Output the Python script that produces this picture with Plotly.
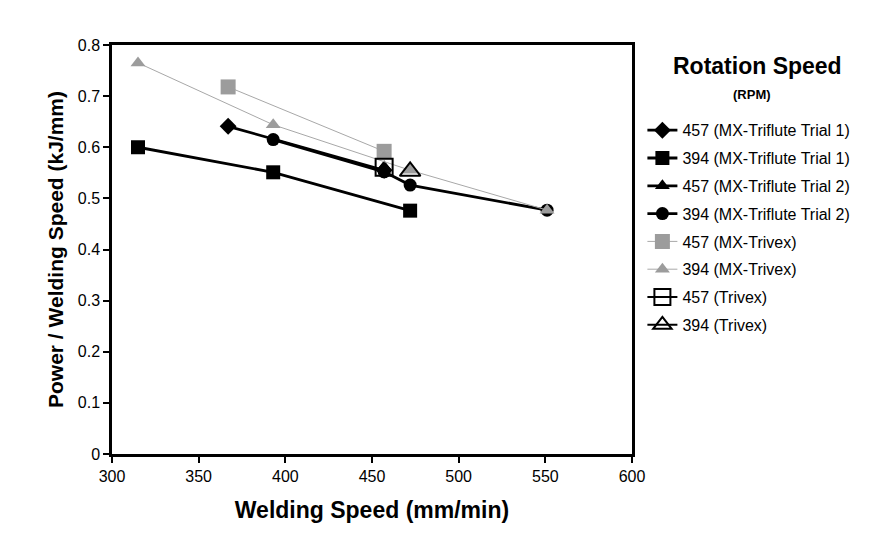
import plotly.graph_objects as go

# Data
t1_457_x = [367, 457]
t1_457_y = [0.641, 0.555]
t1_394_x = [315, 393, 472]
t1_394_y = [0.600, 0.551, 0.476]
t2_457_x = [457]
t2_457_y = [0.562]
t2_394_x = [393, 457, 472, 551]
t2_394_y = [0.615, 0.552, 0.526, 0.477]
mx_457_x = [367, 457]
mx_457_y = [0.718, 0.592]
mx_394_x = [315, 393, 472, 551]
mx_394_y = [0.765, 0.644, 0.555, 0.477]
tv_457_x = [457]
tv_457_y = [0.561]
tv_394_x = [472]
tv_394_y = [0.553]

names = [
    "457 (MX-Triflute Trial 1)",
    "394 (MX-Triflute Trial 1)",
    "457 (MX-Triflute Trial 2)",
    "394 (MX-Triflute Trial 2)",
    "457 (MX-Trivex)",
    "394 (MX-Trivex)",
    "457 (Trivex)",
    "394 (Trivex)",
]

FONT = "Liberation Sans, Arial, sans-serif"
BLACK = "#000000"
GRAY = "#9c9c9c"
GRAYLINE = "#a8a8a8"

series = [
    (t1_457_x, t1_457_y, "diamond", 13, BLACK, BLACK, 2.8),
    (t1_394_x, t1_394_y, "square", 14, BLACK, BLACK, 2.8),
    (t2_457_x, t2_457_y, "triangle-up", 13, BLACK, BLACK, 2.8),
    (t2_394_x, t2_394_y, "circle", 13, BLACK, BLACK, 2.8),
    (mx_457_x, mx_457_y, "square", 15, GRAY, GRAYLINE, 1),
    (mx_394_x, mx_394_y, "triangle-up", 13, GRAY, GRAYLINE, 1),
    (tv_457_x, tv_457_y, "square-open", 17, BLACK, BLACK, 2),
    (tv_394_x, tv_394_y, "triangle-up-open", 18, BLACK, BLACK, 2),
]

fig = go.Figure()
for i, (xs, ys, sym, size, mcol, lcol, lw) in enumerate(series):
    open_sym = sym.endswith("open")
    fig.add_trace(go.Scatter(
        x=xs, y=ys, name=names[i], mode="lines+markers",
        line=dict(color=lcol, width=lw),
        marker=dict(symbol=sym, size=size, color=mcol,
                    line=dict(width=2 if open_sym else 0, color=mcol)),
        legendgroup="g%d" % i,
    ))

axis_common = dict(
    showline=True, linecolor=BLACK, linewidth=2.5, mirror=True,
    ticks="outside", ticklen=6, tickwidth=2, tickcolor=BLACK,
    showgrid=False, zeroline=False, automargin=False,
    tickfont=dict(family=FONT, size=16, color=BLACK),
)

fig.update_layout(
    width=875, height=559,
    paper_bgcolor="white", plot_bgcolor="white",
    margin=dict(l=104, r=251, t=37, b=113),
    showlegend=True,
    legend=dict(
        x=1.02, y=0.833, xanchor="left", yanchor="top",
        font=dict(family=FONT, size=16, color=BLACK),
        tracegroupgap=4, itemwidth=30,
        bgcolor="rgba(0,0,0,0)",
    ),
    xaxis=dict(range=[300, 600], dtick=50, tick0=300,
               title=dict(text="<b>Welding Speed (mm/min)</b>",
                          font=dict(family=FONT, size=23, color=BLACK), standoff=18),
               **axis_common),
    yaxis=dict(range=[0, 0.8], dtick=0.1, tick0=0,
               title=dict(text="<b>Power / Welding Speed (kJ/mm)</b>",
                          font=dict(family=FONT, size=21, color=BLACK), standoff=9),
               **axis_common),
    annotations=[
        dict(text="<b>Rotation Speed</b>", xref="paper", yref="paper",
             x=1.242, y=0.949, xanchor="center", yanchor="middle", showarrow=False,
             font=dict(family=FONT, size=23, color=BLACK)),
        dict(text="<b>(RPM)</b>", xref="paper", yref="paper",
             x=1.231, y=0.878, xanchor="center", yanchor="middle", showarrow=False,
             font=dict(family=FONT, size=13, color=BLACK)),
    ],
)

fig.write_html("out.html")
